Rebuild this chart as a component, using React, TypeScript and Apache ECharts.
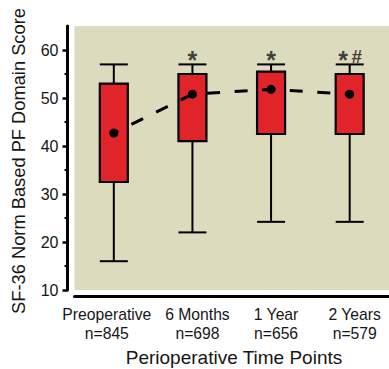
import React, { useEffect, useRef } from "react";
import * as echarts from "echarts";

const timePoints = ["Preoperative", "6 Months", "1 Year", "2 Years"];
const sampleSizes = ["n=845", "n=698", "n=656", "n=579"];
const whiskerLow = [16, 22, 24.2, 24.2];
const boxQ1 = [32.5, 41, 42.5, 42.5];
const boxQ3 = [53, 55, 55.5, 55];
const whiskerHigh = [57, 57, 57, 57];
const centerDots = [42.7, 50.8, 51.8, 50.8];
const significanceStar = ["", "*", "*", "*"];
const significanceHash = ["", "", "", "#"];
const significanceLevel = 59;
const yTicks = [10, 20, 30, 40, 50, 60];
const yMinorTicks = [15, 25, 35, 45, 55];

const FONT = "Arial, 'Liberation Sans', Helvetica, sans-serif";
const TEXT = "#161616";

export default function App() {
  const ref = useRef<HTMLDivElement>(null);
  useEffect(() => {
    if (!ref.current) return;
    const chart = echarts.init(ref.current, null, { renderer: "svg" });
    const categories = timePoints.map((t, i) => ({
      value: t + "\n" + sampleSizes[i],
      textStyle: { padding: i === 0 ? [0, 14, 0, 0] : [0, 0, 0, 10] },
    }));
    const boxData = timePoints.map((_, i) => [i, whiskerLow[i], boxQ1[i], boxQ3[i], whiskerHigh[i]]);
    const starData = significanceStar.map((s, i) => ({
      value: [i, significanceLevel],
      label: { offset: [significanceHash[i] ? -6.5 : 0, 5] },
    }));
    const hashData = significanceHash.map((s, i) => ({
      value: [i, significanceLevel],
      label: { offset: [7, 1.5] },
    }));
    const option: any = {
      animation: false,
      backgroundColor: "#ffffff",
      grid: {
        left: 74.5,
        right: -9.5,
        top: 26,
        bottom: 79,
        show: true,
        backgroundColor: "#dcdbbd",
        borderWidth: 0,
      },
      xAxis: {
        type: "category",
        data: categories,
        boundaryGap: true,
        offset: 6,
        axisLine: { lineStyle: { color: "#000", width: 3 } },
        axisTick: { alignWithLabel: true, length: 5, lineStyle: { color: "#000", width: 2.5 } },
        axisLabel: {
          color: TEXT,
          fontSize: 15.7,
          fontFamily: FONT,
          lineHeight: 19,
          margin: 9,
          interval: 0,
        },
        splitLine: { show: false },
      },
      yAxis: [
        {
          type: "value",
          min: 10,
          max: 65,
          offset: 7,
          axisLine: { show: true, lineStyle: { color: "#000", width: 3 } },
          axisTick: { show: true, length: 5, customValues: yTicks, lineStyle: { color: "#000", width: 2.5 } },
          axisLabel: { color: TEXT, fontSize: 16, fontFamily: FONT, margin: 9, customValues: yTicks },
          splitLine: { show: false },
        },
        {
          type: "value",
          min: 10,
          max: 65,
          offset: 7,
          position: "left",
          axisLine: { show: false },
          axisTick: { show: true, length: 3, customValues: yMinorTicks, lineStyle: { color: "#000", width: 2 } },
          axisLabel: { show: false, customValues: yMinorTicks },
          splitLine: { show: false },
        },
      ],
      graphic: [
        {
          type: "text",
          x: 18,
          y: 161,
          rotation: Math.PI / 2,
          style: {
            text: "SF-36 Norm Based PF Domain Score",
            fontSize: 18.3,
            fontFamily: FONT,
            fill: TEXT,
            align: "center",
            verticalAlign: "middle",
          },
        },
        {
          type: "text",
          x: 234,
          y: 357,
          style: {
            text: "Perioperative Time Points",
            fontSize: 19,
            fontFamily: FONT,
            fill: TEXT,
            align: "center",
            verticalAlign: "middle",
          },
        },
      ],
      series: [
        {
          type: "custom",
          z: 2,
          data: boxData,
          encode: { x: 0, y: [1, 2, 3, 4] },
          renderItem: (params: any, api: any) => {
            const i = api.value(0);
            const low = api.coord([i, api.value(1)]);
            const q1 = api.coord([i, api.value(2)]);
            const q3 = api.coord([i, api.value(3)]);
            const high = api.coord([i, api.value(4)]);
            const half = 14;
            const capHalf = 14;
            const ls = { stroke: "#000", lineWidth: 2 };
            return {
              type: "group",
              children: [
                { type: "line", shape: { x1: low[0], y1: low[1], x2: q1[0], y2: q1[1] }, style: ls },
                { type: "line", shape: { x1: high[0], y1: high[1], x2: q3[0], y2: q3[1] }, style: ls },
                { type: "line", shape: { x1: low[0] - capHalf, y1: low[1], x2: low[0] + capHalf, y2: low[1] }, style: ls },
                { type: "line", shape: { x1: high[0] - capHalf, y1: high[1], x2: high[0] + capHalf, y2: high[1] }, style: ls },
                {
                  type: "rect",
                  shape: { x: q3[0] - half, y: q3[1], width: half * 2, height: q1[1] - q3[1] },
                  style: { fill: "#e1232a", stroke: "#000", lineWidth: 2.2 },
                },
              ],
            };
          },
        },
        {
          type: "line",
          z: 3,
          data: centerDots,
          symbol: "circle",
          symbolSize: 9,
          itemStyle: { color: "#000" },
          lineStyle: { color: "#000", width: 3, type: [13, 14.6], dashOffset: 7.6 },
        },
        {
          type: "scatter",
          z: 4,
          data: starData,
          symbolSize: 0,
          label: {
            show: true,
            position: "inside",
            formatter: (p: any) => significanceStar[p.dataIndex],
            fontSize: 25,
            fontWeight: "bold",
            fontFamily: FONT,
            color: TEXT,
          },
        },
        {
          type: "scatter",
          z: 4,
          data: hashData,
          symbolSize: 0,
          label: {
            show: true,
            position: "inside",
            formatter: (p: any) => significanceHash[p.dataIndex],
            fontSize: 19,
            fontWeight: "bold",
            fontFamily: FONT,
            color: TEXT,
          },
        },
      ],
    };
    chart.setOption(option);
    return () => chart.dispose();
  }, []);
  return (
    <div
      ref={ref}
      style={{ position: "absolute", left: 0, top: 0, width: 389, height: 369 }}
    />
  );
}
